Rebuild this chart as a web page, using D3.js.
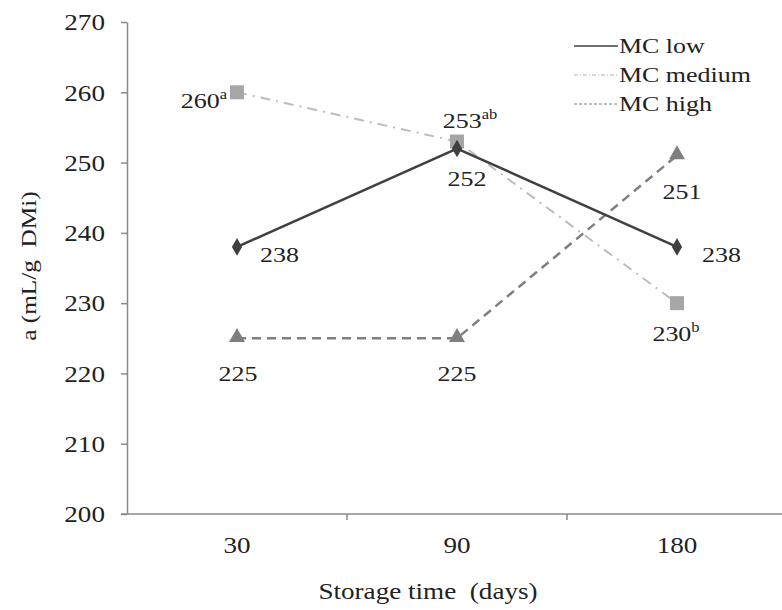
<!DOCTYPE html>
<html>
<head>
<meta charset="utf-8">
<script src="https://cdn.jsdelivr.net/npm/d3@7/dist/d3.min.js"></script>
<style>
  body { margin: 0; background: #fff; }
</style>
</head>
<body>
<div id="chart"></div>
<script>
// chart data
const days = ['30', '90', '180'];
const seriesNames = ['MC low', 'MC medium', 'MC high'];
const mcLow = [238, 252, 238];
const mcMedium = [260, 253, 230];
const mcHigh = [225, 225, 251];
const lowLabels = ['238', '252', '238'];
const mediumLabels = [['260', 'a'], ['253', 'ab'], ['230', 'b']];
const highLabels = ['225', '225', '251'];
const yTicks = [200, 210, 220, 230, 240, 250, 260, 270];

const FONT = 'Liberation Serif, Times New Roman, serif';
const SX = 1.18; // the original picture is a bit stretched sideways
const width = 782;
const height = 610;
const margin = { left: 127, top: 22, right: -5, bottom: 96 };

const svg = d3.select('#chart')
  .append('svg')
  .attr('width', width)
  .attr('height', height)
  .attr('font-family', FONT);

const x = d3.scaleBand()
  .domain(days)
  .range([margin.left, width - margin.right]);

const y = d3.scaleLinear()
  .domain([200, 270])
  .range([height - margin.bottom, margin.top]);

const cx = d => x(d) + x.bandwidth() / 2;

// places a stretched serif text at (px, py)
function put(sel, px, py, size, anchor) {
  return sel
    .attr('transform', (d, i) => {
      const tx = typeof px === 'function' ? px(d, i) : px;
      const ty = typeof py === 'function' ? py(d, i) : py;
      return `translate(${tx},${ty}) scale(${SX},1)`;
    })
    .attr('font-family', FONT)
    .attr('font-size', size)
    .attr('text-anchor', anchor || 'middle')
    .attr('fill', '#222');
}

// y axis
const yAxis = svg.append('g')
  .attr('transform', `translate(${margin.left},0)`)
  .call(d3.axisLeft(y).tickValues(yTicks).tickSize(6).tickSizeOuter(0).tickPadding(16));
yAxis.attr('font-family', FONT);
yAxis.select('.domain').attr('stroke', '#8a8a8a').attr('stroke-width', 1.5);
yAxis.selectAll('.tick line').attr('stroke', '#8a8a8a').attr('stroke-width', 1.5);
yAxis.selectAll('.tick text')
  .attr('x', -22 / SX)
  .attr('dy', '0.34em')
  .attr('transform', `scale(${SX},1)`)
  .attr('font-size', 23)
  .attr('fill', '#222');

// x axis: ticks sit between the categories
const xAxis = svg.append('g')
  .attr('transform', `translate(0,${y(200)})`);
xAxis.append('line')
  .attr('x1', margin.left - 6).attr('x2', width)
  .attr('stroke', '#8a8a8a').attr('stroke-width', 1.5);
xAxis.selectAll('.tk')
  .data(days.slice(1))
  .enter()
  .append('line')
  .attr('x1', d => x(d)).attr('x2', d => x(d))
  .attr('y1', 0).attr('y2', 6)
  .attr('stroke', '#8a8a8a').attr('stroke-width', 1.5);
put(xAxis.selectAll('.lbl')
  .data(days)
  .enter()
  .append('text'), d => cx(d), 39, 23)
  .text(d => d);

// axis titles
put(svg.append('text'), 428, 599, 23)
  .attr('xml:space', 'preserve')
  .text('Storage time  (days)');
svg.append('text')
  .attr('transform', 'translate(36,266) rotate(-90) scale(1.15,1)')
  .attr('font-family', FONT)
  .attr('font-size', 22)
  .attr('text-anchor', 'middle')
  .attr('fill', '#222')
  .attr('xml:space', 'preserve')
  .text('a (mL/g  DMi)');

const line = d3.line()
  .x((d, i) => cx(days[i]))
  .y(d => y(d));

// MC medium
svg.append('path')
  .datum(mcMedium)
  .attr('d', line)
  .attr('fill', 'none')
  .attr('stroke', '#bdbdbd')
  .attr('stroke-width', 2)
  .attr('stroke-dasharray', '10,6,2,6');
// MC high
svg.append('path')
  .datum(mcHigh)
  .attr('d', line)
  .attr('fill', 'none')
  .attr('stroke', '#7f7f7f')
  .attr('stroke-width', 2.5)
  .attr('stroke-dasharray', '9,6');
// MC low
svg.append('path')
  .datum(mcLow)
  .attr('d', line)
  .attr('fill', 'none')
  .attr('stroke', '#404040')
  .attr('stroke-width', 2.5);

// markers
svg.selectAll('.sq')
  .data(mcMedium)
  .enter()
  .append('rect')
  .attr('x', (d, i) => cx(days[i]) - 7)
  .attr('y', d => y(d) - 7)
  .attr('width', 14).attr('height', 14)
  .attr('fill', '#a6a6a6');
svg.selectAll('.tri')
  .data(mcHigh)
  .enter()
  .append('path')
  .attr('d', d3.symbol().type(d3.symbolTriangle).size(110))
  .attr('transform', (d, i) => `translate(${cx(days[i])},${y(d) - 1})`)
  .attr('fill', '#7f7f7f');
svg.selectAll('.dia')
  .data(mcLow)
  .enter()
  .append('path')
  .attr('d', d3.symbol().type(d3.symbolDiamond).size(90))
  .attr('transform', (d, i) => `translate(${cx(days[i])},${y(d)})`)
  .attr('fill', '#404040');

// value labels (offsets from each point)
const lowOff = [[23, 15, 'start'], [10, 37, 'middle'], [25, 15, 'start']];
svg.selectAll('.lowlbl')
  .data(mcLow)
  .enter()
  .append('text')
  .call(put,
    (d, i) => cx(days[i]) + lowOff[i][0],
    (d, i) => y(d) + lowOff[i][1], 22)
  .attr('text-anchor', (d, i) => lowOff[i][2])
  .text((d, i) => lowLabels[i]);

const highOff = [[1, 43], [0, 43], [5, 43]];
svg.selectAll('.highlbl')
  .data(mcHigh)
  .enter()
  .append('text')
  .call(put,
    (d, i) => cx(days[i]) + highOff[i][0],
    (d, i) => y(d) + highOff[i][1], 22)
  .text((d, i) => highLabels[i]);

const medOff = [[-10, 16, 'end'], [13, -13, 'middle'], [-1, 38, 'middle']];
const medText = svg.selectAll('.medlbl')
  .data(mcMedium)
  .enter()
  .append('text')
  .call(put,
    (d, i) => cx(days[i]) + medOff[i][0],
    (d, i) => y(d) + medOff[i][1], 22)
  .attr('text-anchor', (d, i) => medOff[i][2]);
medText.append('tspan').text((d, i) => mediumLabels[i][0]);
medText.append('tspan')
  .attr('dy', -9)
  .attr('font-size', 14)
  .text((d, i) => mediumLabels[i][1]);

// legend
const legendStyles = [
  { stroke: '#404040', width: 1.5, dash: null },
  { stroke: '#b0b0b0', width: 1, dash: '4,2,1,2' },
  { stroke: '#7f7f7f', width: 1, dash: '3,2' }
];
const legend = svg.append('g')
  .attr('transform', 'translate(574,46)');
const items = legend.selectAll('g')
  .data(seriesNames)
  .enter()
  .append('g')
  .attr('transform', (d, i) => `translate(0,${i * 29})`);
items.append('line')
  .attr('x1', 0).attr('x2', 44)
  .attr('stroke', (d, i) => legendStyles[i].stroke)
  .attr('stroke-width', (d, i) => legendStyles[i].width)
  .attr('stroke-dasharray', (d, i) => legendStyles[i].dash);
put(items.append('text'), 45, 7, 22, 'start')
  .text(d => d);
</script>
</body>
</html>
